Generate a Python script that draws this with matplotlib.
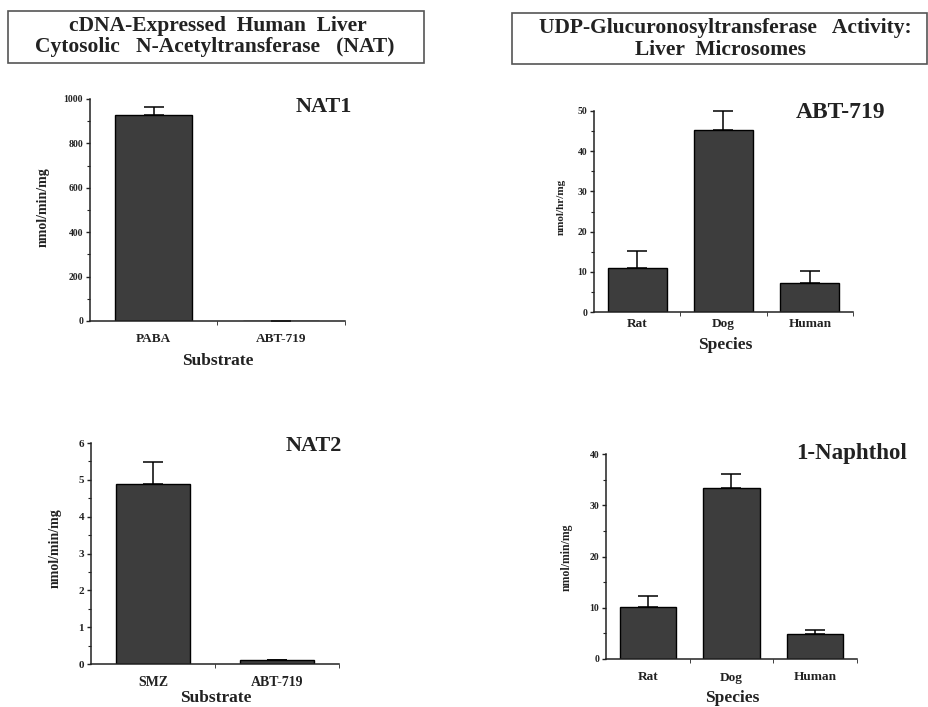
import matplotlib
matplotlib.use("Agg")
import matplotlib.pyplot as plt
from matplotlib.patches import Rectangle
from matplotlib.ticker import MultipleLocator, FixedLocator

# ---- data ----
nat1_substrates = ["PABA", "ABT-719"]
nat1_values = [930, 0]
nat1_err = [35, 0]

nat2_substrates = ["SMZ", "ABT-719"]
nat2_values = [4.9, 0.12]
nat2_err = [0.58, 0]

species = ["Rat", "Dog", "Human"]
ugt_abt719_values = [11.0, 45.2, 7.2]
ugt_abt719_err = [4.1, 4.8, 3.0]
ugt_naphthol_values = [10.1, 33.3, 4.9]
ugt_naphthol_err = [2.1, 2.8, 0.8]

W, H = 929, 707
SERIF = ["Liberation Serif", "DejaVu Serif"]
BAR_COLOR = "#3d3d3d"
INK = "#222222"

fig = plt.figure(figsize=(W / 100, H / 100), dpi=100)
fig.patch.set_facecolor("white")


def fx(x):
    return x / W


def fy(y):
    return 1 - y / H


def make_axes(x0, x1, ytop, ybot):
    return fig.add_axes([fx(x0), fy(ybot), (x1 - x0) / W, (ybot - ytop) / H])


def style_axes(ax, cats, ymax, major, minor, tick_fs, cat_fs, cat_pad):
    n = len(cats)
    ax.set_xlim(-0.5, n - 0.5)
    ax.set_ylim(0, ymax)
    for s in ("top", "right"):
        ax.spines[s].set_visible(False)
    for s in ("left", "bottom"):
        ax.spines[s].set_linewidth(1.1)
        ax.spines[s].set_color(INK)
    ax.yaxis.set_major_locator(MultipleLocator(major))
    ax.yaxis.set_minor_locator(MultipleLocator(minor))
    ax.set_xticks(range(n))
    ax.set_xticklabels(cats, fontfamily=SERIF, fontweight="bold",
                       fontsize=cat_fs, color=INK)
    ax.xaxis.set_minor_locator(FixedLocator([i + 0.5 for i in range(n)]))
    ax.tick_params(axis="x", which="major", length=0, pad=cat_pad)
    ax.tick_params(axis="x", which="minor", length=3, direction="out",
                   color=INK)
    ax.tick_params(axis="y", which="major", length=3, width=1, direction="out",
                   labelsize=tick_fs, pad=2, color=INK)
    ax.tick_params(axis="y", which="minor", length=2, width=0.8,
                   direction="out", color=INK)
    for lab in ax.get_yticklabels():
        lab.set_fontfamily(SERIF)
        lab.set_fontweight("bold")
        lab.set_color(INK)


def draw_bars(ax, values, errs, width, cap):
    x = list(range(len(values)))
    ax.bar(x, values, width=width, color=BAR_COLOR, edgecolor="black",
           linewidth=1.0, zorder=2)
    _, caps, lines = ax.errorbar(x, values, yerr=[[0] * len(errs), errs],
                                 fmt="none", ecolor="black", elinewidth=1.1,
                                 capsize=cap, capthick=1.1, zorder=1)
    for artist in list(caps) + list(lines):
        artist.set_clip_on(False)


def text_px(x, y, s, size, rot=0, weight="bold"):
    fig.text(fx(x), fy(y), s, ha="center", va="center", rotation=rot,
             fontsize=size, fontfamily=SERIF, fontweight=weight, color=INK)


# ---- header boxes ----
fig.patches.append(Rectangle((fx(8), fy(63)), (424 - 8) / W, (63 - 11) / H,
                             transform=fig.transFigure, fill=False,
                             edgecolor="#555555", linewidth=1.2))
fig.patches.append(Rectangle((fx(512), fy(64)), (927 - 512) / W, (64 - 13) / H,
                             transform=fig.transFigure, fill=False,
                             edgecolor="#555555", linewidth=1.2))
text_px(218, 26, "cDNA-Expressed  Human  Liver", 15.5)
text_px(215, 47, "Cytosolic   N-Acetyltransferase   (NAT)", 15.5)
text_px(725, 28, "UDP-Glucuronosyltransferase   Activity:", 15.5)
text_px(720, 50, "Liver  Microsomes", 15.5)

# ---- NAT1 ----
ax1 = make_axes(90, 345, 99, 321)
draw_bars(ax1, nat1_values, nat1_err, 0.6, 7.5)
style_axes(ax1, nat1_substrates, 1000, 200, 100, 7, 9.5, 9)
text_px(324, 107, "NAT1", 16)
text_px(43, 207, "nmol/min/mg", 10, rot=90)
text_px(218, 361, "Substrate", 12.5)

# ---- NAT2 ----
ax3 = make_axes(91, 339, 443, 664)
draw_bars(ax3, nat2_values, nat2_err, 0.6, 7.5)
style_axes(ax3, nat2_substrates, 6, 1, 0.5, 8, 10, 9)
text_px(314, 446, "NAT2", 16)
text_px(55, 548, "nmol/min/mg", 10, rot=90)
text_px(216, 698, "Substrate", 12.5)

# ---- UGT: ABT-719 ----
ax2 = make_axes(594, 853, 111, 312)
draw_bars(ax2, ugt_abt719_values, ugt_abt719_err, 0.68, 7.5)
style_axes(ax2, species, 50, 10, 5, 7, 9.5, 4)
text_px(841, 113, "ABT-719", 17)
text_px(561, 207, "nmol/hr/mg", 8, rot=90)
text_px(725, 345, "Species", 12.5)

# ---- UGT: 1-Naphthol ----
ax4 = make_axes(606, 857, 454, 659)
draw_bars(ax4, ugt_naphthol_values, ugt_naphthol_err, 0.67, 7.5)
style_axes(ax4, species, 40, 10, 5, 7, 9.5, 9)
text_px(852, 453, "1-Naphthol", 16.5)
text_px(567, 557, "nmol/min/mg", 8.5, rot=90)
text_px(732, 698, "Species", 12.5)

fig.savefig("out.png", dpi=100, facecolor="white")
